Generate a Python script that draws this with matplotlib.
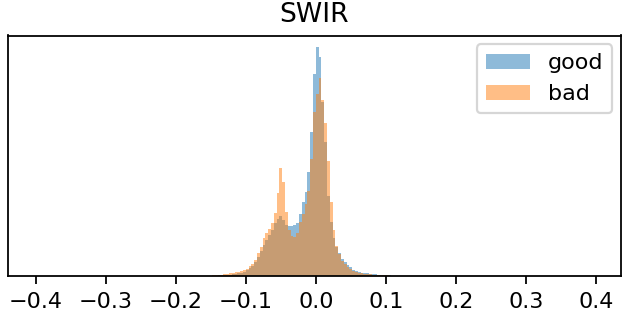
import numpy as np
import matplotlib
matplotlib.use("Agg")
import matplotlib.pyplot as plt

# histogram heights, one value per bin (width 0.004)
# first bin centre is -0.158, last is 0.122
good = [0.1, 0.15, 0.2, 0.3, 0.4, 0.5, 0.7, 0.9, 1.1, 1.4,
        1.7, 2.1, 2.7, 3.3, 4.3, 6, 7.7, 10, 14, 19,
        25, 31, 36, 41, 46, 53, 57, 60, 56, 51,
        50, 50, 51, 53, 62, 74, 84, 104, 144, 202,
        229, 219, 174, 134, 80, 54, 38, 29, 23, 16.7,
        14, 10.7, 8.7, 6.3, 4.7, 4, 3.3, 3, 2.7, 2.3,
        2, 1.7, 1.3, 1.2, 1, 0.8, 0.6, 0.4, 0.3, 0.2, 0.1]
bad = [0.2, 0.3, 0.4, 0.6, 0.8, 1.0, 1.3, 1.6, 2, 2.5,
       3, 3.5, 4, 4.5, 6, 7, 10, 12, 16, 23,
       29, 38, 43, 47, 53, 63, 83, 108, 94, 64,
       46, 40, 39, 43, 54, 62, 72, 85, 117, 164,
       182, 198, 176, 153, 115, 74, 46, 30, 22, 14.7,
       12, 9, 7.3, 5.3, 4, 3.3, 2.7, 2.3, 2, 1.7,
       1.3, 1.2, 1, 0.8, 0.6, 0.5, 0.4, 0.3, 0.2, 0.1, 0.05]

width = 0.004
centers = -0.158 + width * np.arange(len(good))
edges = np.linspace(-0.4, 0.388, 198)

dpi = 160
fig = plt.figure(figsize=(623 / dpi, 312 / dpi), dpi=dpi)
ax = fig.add_axes([8 / 623, 36 / 312, 613 / 623, 240.5 / 312])

ax.hist(centers, bins=edges, weights=good, alpha=0.5, label="good")
ax.hist(centers, bins=edges, weights=bad, alpha=0.5, label="bad")

ax.set_xlim(-0.4394, 0.4357)
ax.set_yticks([])
ax.set_title("SWIR")
ax.legend(loc="upper right", borderaxespad=0.4)

fig.savefig("out.png", dpi=dpi)
